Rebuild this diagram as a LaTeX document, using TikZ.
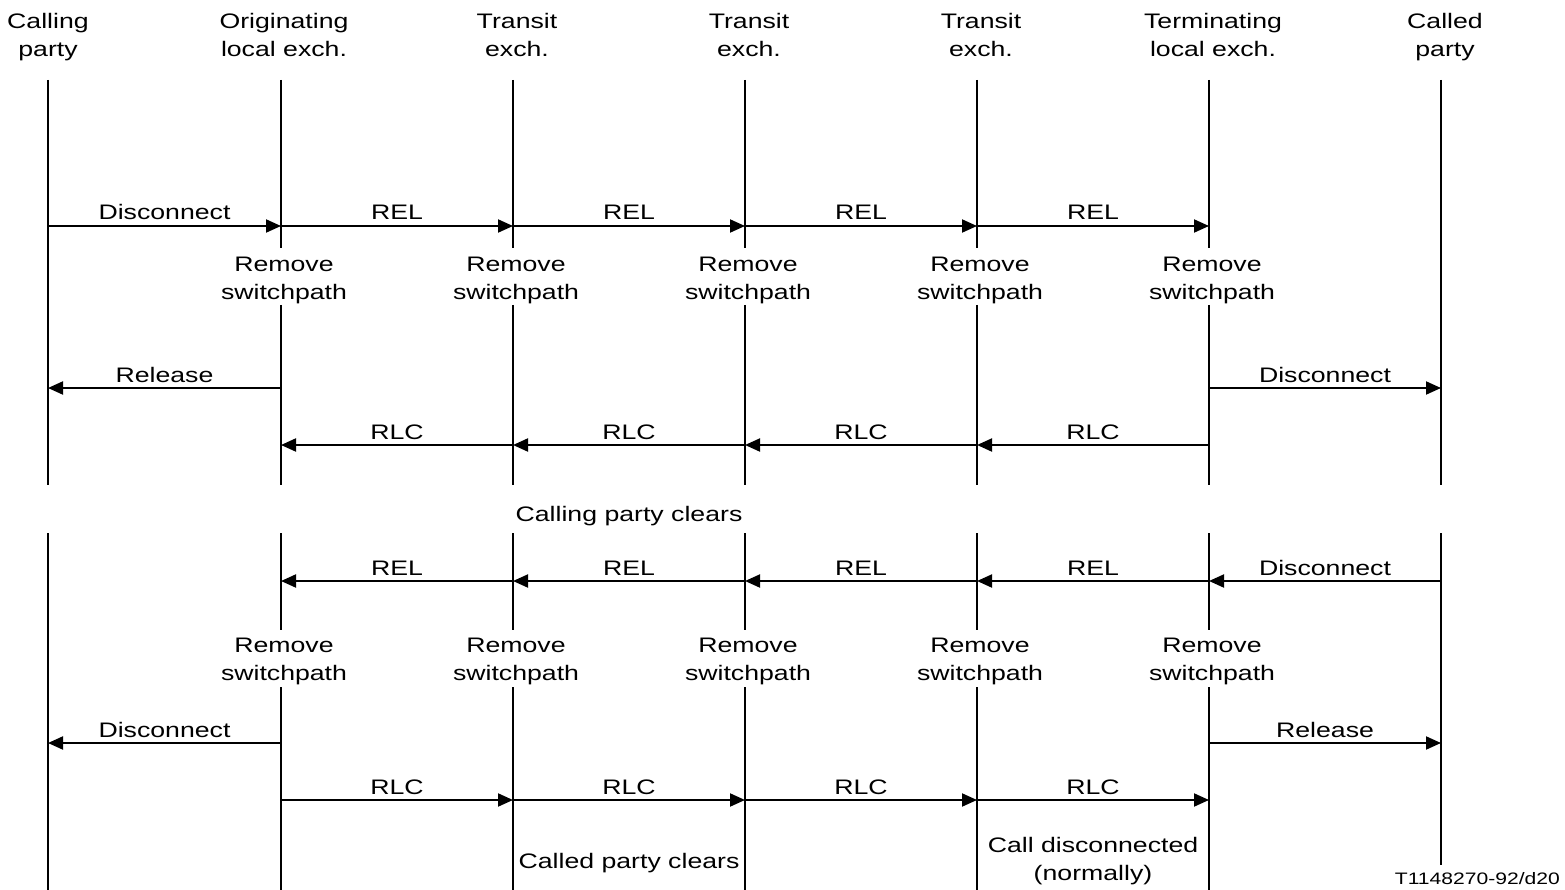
\documentclass[tikz,border=0pt]{standalone}
\usepackage{fontspec}
\setmainfont[FakeStretch=1.27]{Liberation Sans}
\usetikzlibrary{arrows.meta}
\begin{document}
\begin{tikzpicture}[x=1pt,y=-1pt,
  life/.style={line width=2pt},
  msg/.style={line width=2pt,-{Triangle[length=15pt,width=13pt]}},
  lbl/.style={font=\fontsize{21}{28}\selectfont, inner sep=0pt, anchor=base, yshift=6pt},
  txt/.style={font=\fontsize{21}{28}\selectfont, inner sep=0pt, align=center},
]
\useasboundingbox (0,0) rectangle (1565,890);
% lifeline positions
\foreach \n/\x in {1/48,2/281,3/513,4/745,5/977,6/1209,7/1441}{
  \coordinate (p\n) at (\x,0);
}
% rows
\coordinate (r1) at (0,226);
\coordinate (r2) at (0,388);
\coordinate (r3) at (0,445);
\coordinate (r4) at (0,581);
\coordinate (r5) at (0,743);
\coordinate (r6) at (0,800);

% headers
\node[txt] (h1) at (48,37.4) {Calling\strut\\party\strut};
\node[txt] (h2) at (284,37.4) {Originating\strut\\local exch.\strut};
\node[txt] (h3) at (517,37.4) {Transit\strut\\exch.\strut};
\node[txt] (h4) at (749,37.4) {Transit\strut\\exch.\strut};
\node[txt] (h5) at (981,37.4) {Transit\strut\\exch.\strut};
\node[txt] (h6) at (1213,37.4) {Terminating\strut\\local exch.\strut};
\node[txt] (h7) at (1445,37.4) {Called\strut\\party\strut};

% lifelines, top section
\draw[life] (48,80) -- (48,485);
\draw[life] (1441,80) -- (1441,485);
\foreach \x in {281,513,745,977,1209}{
  \draw[life] (\x,80) -- (\x,248);
  \draw[life] (\x,305) -- (\x,485);
  \draw[life] (\x,533) -- (\x,630);
  \draw[life] (\x,687) -- (\x,890);
}
% lifelines, bottom section
\draw[life] (48,533) -- (48,890);
\draw[life] (1441,533) -- (1441,865);

% remove switchpath
\foreach \n/\x in {2/281,3/513,4/745,5/977,6/1209}{
  \node[txt] (rst\n) at (\x+3,280.4) {Remove\strut\\switchpath\strut};
  \node[txt] (rsb\n) at (\x+3,660.4) {Remove\strut\\switchpath\strut};
}

% top section messages
\draw[msg] (p1 |- r1) -- (p2 |- r1) node[lbl,midway] {Disconnect};
\draw[msg] (p2 |- r1) -- (p3 |- r1) node[lbl,midway] {REL};
\draw[msg] (p3 |- r1) -- (p4 |- r1) node[lbl,midway] {REL};
\draw[msg] (p4 |- r1) -- (p5 |- r1) node[lbl,midway] {REL};
\draw[msg] (p5 |- r1) -- (p6 |- r1) node[lbl,midway] {REL};

\draw[msg] (p2 |- r2) -- (p1 |- r2) node[lbl,midway] {Release};
\draw[msg] (p6 |- r2) -- (p7 |- r2) node[lbl,midway] {Disconnect};

\draw[msg] (p3 |- r3) -- (p2 |- r3) node[lbl,midway] {RLC};
\draw[msg] (p4 |- r3) -- (p3 |- r3) node[lbl,midway] {RLC};
\draw[msg] (p5 |- r3) -- (p4 |- r3) node[lbl,midway] {RLC};
\draw[msg] (p6 |- r3) -- (p5 |- r3) node[lbl,midway] {RLC};

\node[lbl,yshift=-6pt] (cpc) at (629,521) {Calling party clears};

% bottom section messages
\draw[msg] (p3 |- r4) -- (p2 |- r4) node[lbl,midway] {REL};
\draw[msg] (p4 |- r4) -- (p3 |- r4) node[lbl,midway] {REL};
\draw[msg] (p5 |- r4) -- (p4 |- r4) node[lbl,midway] {REL};
\draw[msg] (p6 |- r4) -- (p5 |- r4) node[lbl,midway] {REL};
\draw[msg] (p7 |- r4) -- (p6 |- r4) node[lbl,midway] {Disconnect};

\draw[msg] (p2 |- r5) -- (p1 |- r5) node[lbl,midway] {Disconnect};
\draw[msg] (p6 |- r5) -- (p7 |- r5) node[lbl,midway] {Release};

\draw[msg] (p2 |- r6) -- (p3 |- r6) node[lbl,midway] {RLC};
\draw[msg] (p3 |- r6) -- (p4 |- r6) node[lbl,midway] {RLC};
\draw[msg] (p4 |- r6) -- (p5 |- r6) node[lbl,midway] {RLC};
\draw[msg] (p5 |- r6) -- (p6 |- r6) node[lbl,midway] {RLC};

\node[lbl,yshift=-6pt] (cdpc) at (629,868) {Called party clears};
\node[txt] (cdn) at (1093,860.4) {Call disconnected\strut\\(normally)\strut};
\node[font=\fontsize{16.6}{20}\selectfont, inner sep=0pt, anchor=base east] (ref) at (1560,884) {T1148270-92/d20};
\end{tikzpicture}
\end{document}
